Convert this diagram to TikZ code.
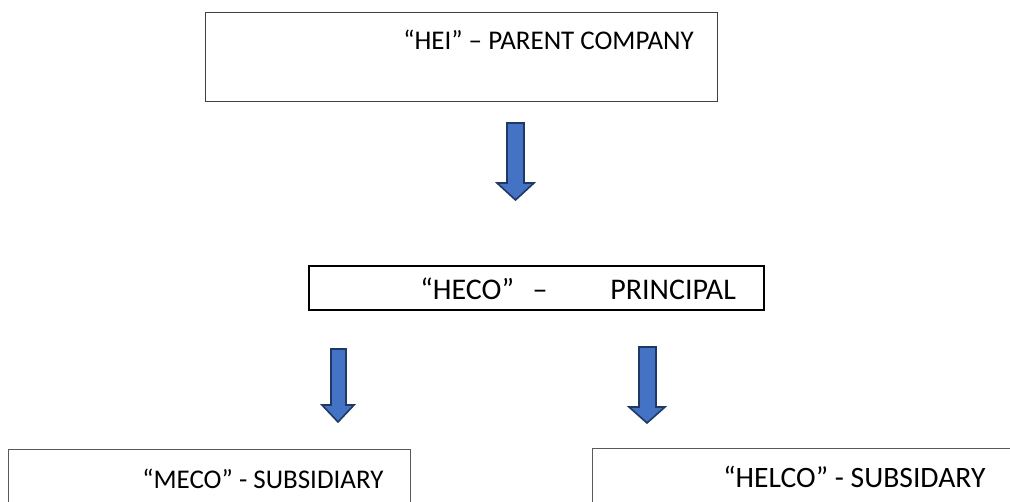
\documentclass[tikz,border=0pt]{standalone}
\usepackage{fontspec}
\setmainfont{Carlito}
\definecolor{arrowfill}{HTML}{4472C4}
\definecolor{arrowline}{HTML}{1F3864}
\begin{document}
\begin{tikzpicture}[x=0.75pt,y=-0.75pt,
  lbl/.style={anchor=base west,inner sep=0pt,font=\fontsize{20.25}{24}\selectfont},
  boxthin/.style={draw=black!75,line width=0.9pt,anchor=north west,inner sep=0pt},
  boxthick/.style={draw=black,line width=1.5pt,anchor=north west,inner sep=0pt},
  boxgray/.style={draw=black!65,line width=1pt,anchor=north west,inner sep=0pt},
  blockarrow/.style={fill=arrowfill,draw=arrowline,line width=1.2pt,line join=miter}
]
\useasboundingbox (0,0) rectangle (1010,502);
\clip (0,0) rectangle (1010,502);

% boxes
\node[boxthin, minimum width=384pt, minimum height=66.75pt] (hei) at (205,12) {};
\node[boxthick, minimum width=341.25pt, minimum height=33pt] (heco) at (308,265) {};
\node[boxgray, minimum width=301.5pt, minimum height=60pt] (meco) at (8,449) {};
\node[boxgray, minimum width=330pt, minimum height=60pt] (helco) at (592,448) {};

% labels
\node[lbl] (heitxt) at (403,50) {“HEI” – PARENT COMPANY};
\node[lbl, font=\fontsize{22.5}{27}\selectfont] (hecotxt) at (420,300)
  {“HECO”\hspace{14pt}–\hspace{47pt}PRINCIPAL};
\node[lbl] (mecotxt) at (142,488) {“MECO” - SUBSIDIARY};
\node[lbl, font=\fontsize{22.2}{27}\selectfont] (helcotxt) at (723,487) {“HELCO” - SUBSIDARY};

% block arrows
\draw[blockarrow] (507,123) -- (524,123) -- (524,183) -- (534,183) -- (515.5,200)
  -- (497,183) -- (507,183) -- cycle;
\draw[blockarrow] (331,349) -- (346,349) -- (346,405) -- (354,405) -- (338,422)
  -- (322,405) -- (331,405) -- cycle;
\draw[blockarrow] (639,347) -- (656,347) -- (656,407) -- (665,407) -- (647,423)
  -- (629,407) -- (639,407) -- cycle;
\end{tikzpicture}
\end{document}
